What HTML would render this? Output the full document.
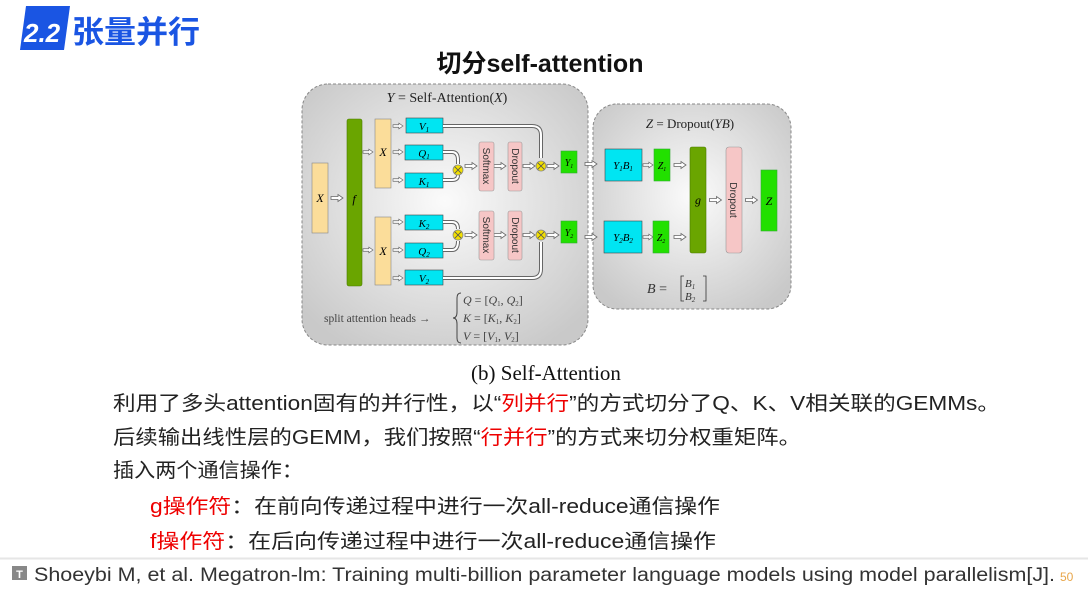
<!DOCTYPE html>
<html><head><meta charset="utf-8"><style>
html,body{margin:0;padding:0;background:#fff;}
svg{display:block;}
.cj{font-family:"Liberation Sans","Noto Sans CJK SC",sans-serif;}
.m{font-family:"Liberation Serif",serif;font-style:italic;}
.s{font-family:"Liberation Serif",serif;}
</style></head><body>
<svg width="1088" height="591" viewBox="0 0 1088 591" xmlns="http://www.w3.org/2000/svg">
<defs>
<radialGradient id="bg" cx="50%" cy="45%" r="65%"><stop offset="0" stop-color="#fbfbfb"/><stop offset="1" stop-color="#c9c9c9"/></radialGradient>
<symbol id="a" viewBox="0 -4 12 8" width="12" height="8" overflow="visible"><polygon points="0,-1.5 7,-1.5 7,-3.5 12,0 7,3.5 7,1.5 0,1.5" fill="#fff" stroke="#666" stroke-width="0.8"/></symbol>
<g id="ox"><circle r="5" fill="#f2e000" stroke="#888" stroke-width="0.8"/><path d="M-3.3,-3.3L3.3,3.3M3.3,-3.3L-3.3,3.3" stroke="#555" stroke-width="0.8"/></g>
</defs>
<!-- logo -->
<polygon points="26,6 70,6 64,50 20,50" fill="#1a55e3"/>
<text x="24" y="42" class="cj" font-size="26" font-weight="bold" font-style="italic" fill="#fff">2.2</text>
<text x="72" y="43" class="cj" font-size="31" fill="#1a55e3" font-weight="bold" textLength="128" lengthAdjust="spacingAndGlyphs">张量并行</text>
<text x="540" y="72" class="cj" font-size="25" font-weight="bold" text-anchor="middle" fill="#111">切分self-attention</text>

<!-- left panel -->
<rect x="302" y="84" width="286" height="261" rx="26" fill="url(#bg)" stroke="#888" stroke-dasharray="3,2"/>
<text x="447" y="102" class="s" font-size="14" text-anchor="middle" fill="#222"><tspan class="m">Y</tspan> = Self-Attention(<tspan class="m">X</tspan>)</text>
<rect x="312" y="163" width="16" height="70" fill="#fbdd9a" stroke="#888" stroke-width="0.6"/>
<text x="320" y="202" class="m" font-size="12" text-anchor="middle">X</text>
<use href="#a" x="330" y="194" width="14" height="8"/>
<rect x="347" y="119" width="15" height="167" rx="2" fill="#6aa500" stroke="#4a7a00" stroke-width="0.6"/>
<text x="354" y="203" class="m" font-size="12" text-anchor="middle">f</text>
<use href="#a" x="363" y="148" width="10" height="8"/>
<use href="#a" x="363" y="246" width="10" height="8"/>
<rect x="375" y="119" width="16" height="69" fill="#fbdd9a" stroke="#888" stroke-width="0.6"/>
<text x="383" y="156" class="m" font-size="12" text-anchor="middle">X</text>
<rect x="375" y="217" width="16" height="68" fill="#fbdd9a" stroke="#888" stroke-width="0.6"/>
<text x="383" y="255" class="m" font-size="12" text-anchor="middle">X</text>
<use href="#a" x="393" y="122" width="10" height="8"/>
<use href="#a" x="393" y="148" width="10" height="8"/>
<use href="#a" x="393" y="176" width="10" height="8"/>
<use href="#a" x="393" y="218" width="10" height="8"/>
<use href="#a" x="393" y="246" width="10" height="8"/>
<use href="#a" x="393" y="274" width="10" height="8"/>
<g fill="#00e5f2" stroke="#444" stroke-width="0.6">
<rect x="406" y="118" width="37" height="15"/><rect x="405" y="145" width="38" height="15"/><rect x="405" y="173" width="38" height="15"/>
<rect x="405" y="215" width="38" height="15"/><rect x="405" y="243" width="38" height="15"/><rect x="405" y="270" width="38" height="15"/>
</g>
<g class="m" font-size="11" text-anchor="middle">
<text x="424" y="130">V<tspan font-size="7" dy="2">1</tspan></text>
<text x="424" y="157">Q<tspan font-size="7" dy="2">1</tspan></text>
<text x="424" y="185">K<tspan font-size="7" dy="2">1</tspan></text>
<text x="424" y="227">K<tspan font-size="7" dy="2">2</tspan></text>
<text x="424" y="255">Q<tspan font-size="7" dy="2">2</tspan></text>
<text x="424" y="282">V<tspan font-size="7" dy="2">2</tspan></text>
</g>
<g fill="none">
<path d="M443,126 H532 Q541,126 541,135 V158" stroke="#666" stroke-width="4"/>
<path d="M443,126 H532 Q541,126 541,135 V158" stroke="#fff" stroke-width="2"/>
<path d="M443,152 H452 Q458,152 458,160 V164" stroke="#666" stroke-width="4"/>
<path d="M443,152 H452 Q458,152 458,160 V164" stroke="#fff" stroke-width="2"/>
<path d="M443,180 H452 Q458,180 458,175" stroke="#666" stroke-width="4"/>
<path d="M443,180 H452 Q458,180 458,175" stroke="#fff" stroke-width="2"/>
<path d="M443,222 H452 Q458,222 458,229" stroke="#666" stroke-width="4"/>
<path d="M443,222 H452 Q458,222 458,229" stroke="#fff" stroke-width="2"/>
<path d="M443,250 H452 Q458,250 458,241" stroke="#666" stroke-width="4"/>
<path d="M443,250 H452 Q458,250 458,241" stroke="#fff" stroke-width="2"/>
<path d="M443,278 H532 Q541,278 541,269 V242" stroke="#666" stroke-width="4"/>
<path d="M443,278 H532 Q541,278 541,269 V242" stroke="#fff" stroke-width="2"/>
</g>
<use href="#ox" x="458" y="170"/><use href="#ox" x="541" y="166"/>
<use href="#ox" x="458" y="235"/><use href="#ox" x="541" y="235"/>
<use href="#a" x="465" y="162" width="12" height="8"/>
<use href="#a" x="494" y="162" width="12" height="8"/>
<use href="#a" x="523" y="162" width="12" height="8"/>
<use href="#a" x="547" y="162" width="12" height="8"/>
<use href="#a" x="465" y="231" width="12" height="8"/>
<use href="#a" x="494" y="231" width="12" height="8"/>
<use href="#a" x="523" y="231" width="12" height="8"/>
<use href="#a" x="547" y="231" width="12" height="8"/>
<g fill="#f6c6c6" stroke="#999" stroke-width="0.6">
<rect x="479" y="142" width="15" height="49" rx="2"/><rect x="508" y="142" width="14" height="49" rx="2"/>
<rect x="479" y="211" width="15" height="49" rx="2"/><rect x="508" y="211" width="14" height="49" rx="2"/>
</g>
<g class="cj" font-size="10" fill="#333" text-anchor="middle">
<text transform="translate(483,166) rotate(90)">Softmax</text>
<text transform="translate(512,166) rotate(90)">Dropout</text>
<text transform="translate(483,235) rotate(90)">Softmax</text>
<text transform="translate(512,235) rotate(90)">Dropout</text>
</g>
<rect x="561" y="151" width="16" height="22" fill="#22e000" stroke="#3a3" stroke-width="0.6"/>
<text x="569" y="166" class="m" font-size="10" text-anchor="middle">Y<tspan font-size="6" dy="2">1</tspan></text>
<rect x="561" y="221" width="16" height="22" fill="#22e000" stroke="#3a3" stroke-width="0.6"/>
<text x="569" y="236" class="m" font-size="10" text-anchor="middle">Y<tspan font-size="6" dy="2">2</tspan></text>
<text x="324" y="322" class="s" font-size="11.5" fill="#444">split attention heads →</text>
<path d="M461,293 Q457,293 457,298 V312 Q457,318 453,318 Q457,318 457,324 V338 Q457,343 461,343" fill="none" stroke="#444" stroke-width="1"/>
<g class="s" font-size="12" fill="#444">
<text x="463" y="304"><tspan class="m">Q</tspan> = [<tspan class="m">Q</tspan><tspan font-size="7" dy="2">1</tspan><tspan dy="-2">, </tspan><tspan class="m">Q</tspan><tspan font-size="7" dy="2">2</tspan><tspan dy="-2">]</tspan></text>
<text x="463" y="322"><tspan class="m">K</tspan> = [<tspan class="m">K</tspan><tspan font-size="7" dy="2">1</tspan><tspan dy="-2">, </tspan><tspan class="m">K</tspan><tspan font-size="7" dy="2">2</tspan><tspan dy="-2">]</tspan></text>
<text x="463" y="340"><tspan class="m">V</tspan> = [<tspan class="m">V</tspan><tspan font-size="7" dy="2">1</tspan><tspan dy="-2">, </tspan><tspan class="m">V</tspan><tspan font-size="7" dy="2">2</tspan><tspan dy="-2">]</tspan></text>
</g>

<!-- right panel -->
<rect x="593" y="104" width="198" height="205" rx="24" fill="url(#bg)" stroke="#888" stroke-dasharray="3,2"/>
<text x="690" y="128" class="s" font-size="13" text-anchor="middle" fill="#222"><tspan class="m">Z</tspan> = Dropout(<tspan class="m">YB</tspan>)</text>
<use href="#a" x="580" y="160" width="22" height="8"/>
<use href="#a" x="580" y="233" width="22" height="8"/>
<rect x="605" y="149" width="37" height="32" fill="#00e5f2" stroke="#444" stroke-width="0.6"/>
<text x="623" y="169" class="m" font-size="11" text-anchor="middle">Y<tspan font-size="7" dy="2">1</tspan><tspan dy="-2">B</tspan><tspan font-size="7" dy="2">1</tspan></text>
<rect x="604" y="221" width="38" height="32" fill="#00e5f2" stroke="#444" stroke-width="0.6"/>
<text x="623" y="241" class="m" font-size="11" text-anchor="middle">Y<tspan font-size="7" dy="2">2</tspan><tspan dy="-2">B</tspan><tspan font-size="7" dy="2">2</tspan></text>
<use href="#a" x="643" y="161" width="10" height="8"/>
<use href="#a" x="643" y="233" width="10" height="8"/>
<rect x="654" y="149" width="16" height="32" fill="#22e000" stroke="#3a3" stroke-width="0.6"/>
<text x="662" y="169" class="m" font-size="10" text-anchor="middle">Z<tspan font-size="6" dy="2">1</tspan></text>
<rect x="653" y="221" width="16" height="32" fill="#22e000" stroke="#3a3" stroke-width="0.6"/>
<text x="661" y="241" class="m" font-size="10" text-anchor="middle">Z<tspan font-size="6" dy="2">2</tspan></text>
<use href="#a" x="673" y="161" width="14" height="8"/>
<use href="#a" x="673" y="233" width="14" height="8"/>
<rect x="690" y="147" width="16" height="106" rx="2" fill="#6aa500" stroke="#4a7a00" stroke-width="0.6"/>
<text x="698" y="204" class="m" font-size="12" text-anchor="middle">g</text>
<use href="#a" x="708" y="196" width="15" height="8"/>
<rect x="726" y="147" width="16" height="106" rx="3" fill="#f6c6c6" stroke="#999" stroke-width="0.6"/>
<text transform="translate(730,200) rotate(90)" class="cj" font-size="10" fill="#333" text-anchor="middle">Dropout</text>
<use href="#a" x="744" y="196" width="15" height="8"/>
<rect x="761" y="170" width="16" height="61" fill="#22e000" stroke="#3a3" stroke-width="0.6"/>
<text x="769" y="205" class="m" font-size="12" text-anchor="middle">Z</text>
<text x="647" y="293" class="m" font-size="14" fill="#333">B <tspan class="s" font-style="normal">=</tspan></text>
<path d="M684,276 h-3 v25 h3 M703,276 h3 v25 h-3" fill="none" stroke="#333" stroke-width="0.8"/>
<text x="685" y="287" class="m" font-size="11" fill="#333">B<tspan font-size="7" dy="2">1</tspan></text>
<text x="685" y="300" class="m" font-size="11" fill="#333">B<tspan font-size="7" dy="2">2</tspan></text>

<text x="546" y="380" class="s" font-size="21" text-anchor="middle" fill="#111">(b) Self-Attention</text>

<g class="cj" font-size="20" fill="#222">
<text x="113" y="410" textLength="887" lengthAdjust="spacingAndGlyphs">利用了多头attention固有的并行性，以“<tspan fill="#e00">列并行</tspan>”的方式切分了Q、K、V相关联的GEMMs。</text>
<text x="113" y="444" textLength="688" lengthAdjust="spacingAndGlyphs">后续输出线性层的GEMM，我们按照“<tspan fill="#e00">行并行</tspan>”的方式来切分权重矩阵。</text>
<text x="113" y="477" textLength="190" lengthAdjust="spacingAndGlyphs">插入两个通信操作：</text>
<text x="150" y="513" textLength="570" lengthAdjust="spacingAndGlyphs"><tspan fill="#e00">g操作符</tspan>：在前向传递过程中进行一次all-reduce通信操作</text>
<text x="150" y="548" textLength="566" lengthAdjust="spacingAndGlyphs"><tspan fill="#e00">f操作符</tspan>：在后向传递过程中进行一次all-reduce通信操作</text>
</g>
<line x1="0" y1="558.5" x2="1088" y2="558.5" stroke="#e6e6e6" stroke-width="2"/>
<rect x="12" y="566" width="15" height="14" fill="#888"/>
<text x="19.5" y="578" class="cj" font-size="11" fill="#fff" text-anchor="middle" font-weight="bold">T</text>
<text x="34" y="581" class="cj" font-size="19" fill="#333" textLength="1021" lengthAdjust="spacingAndGlyphs">Shoeybi M, et al. Megatron-lm: Training multi-billion parameter language models using model parallelism[J].</text>
<text x="1060" y="581" class="cj" font-size="12" fill="#e8a64a">50</text>
</svg>
</body></html>
